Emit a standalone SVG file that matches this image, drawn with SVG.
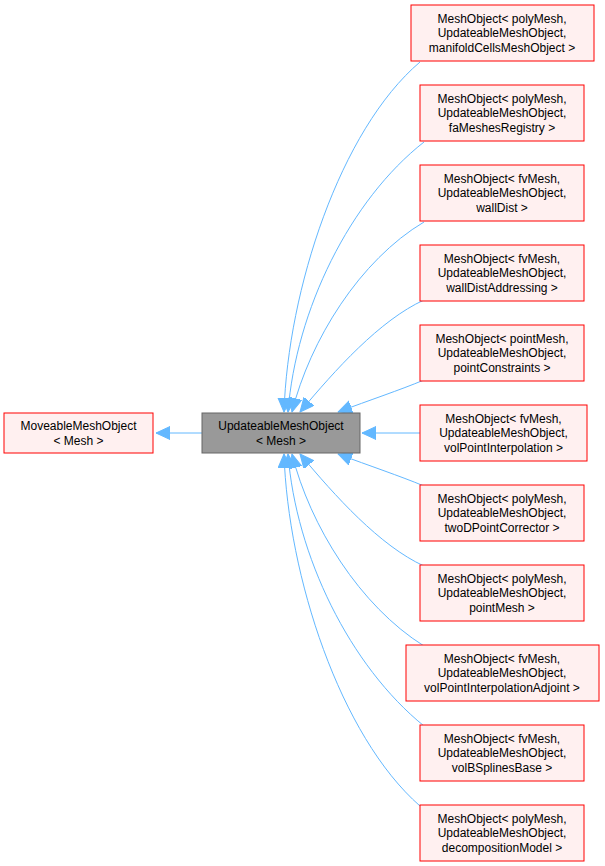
<svg xmlns="http://www.w3.org/2000/svg" width="605" height="866" viewBox="0 0 605 866">
<style>
.n rect{fill:#fff0f0;stroke:#ff0000;stroke-width:1}
.c rect{fill:#999999;stroke:#666666;stroke-width:1}
text{font-family:"Liberation Sans",Arial,sans-serif;font-size:12px;fill:#000;text-anchor:middle}
.e path{fill:none;stroke:#63b8ff;stroke-width:1}
</style>
<defs>
<marker id="a" markerWidth="16" markerHeight="16" refX="14" refY="6.5" orient="auto" markerUnits="userSpaceOnUse">
<polygon points="0,0 14,6.5 0,13" fill="#63b8ff" stroke="#63b8ff" stroke-linejoin="round"/>
</marker>
</defs>
<g class="e">
<path d="M202,433 L156,433" marker-end="url(#a)"/>
<path d="M420,62 C340,130 288,290 284,412" marker-end="url(#a)"/>
<path d="M424,142 C350,200 296,310 288,412" marker-end="url(#a)"/>
<path d="M424,222 C360,260 310,340 292,412" marker-end="url(#a)"/>
<path d="M424,300 C380,320 335,370 300,412" marker-end="url(#a)"/>
<path d="M424,380 C400,390 370,400 338,412" marker-end="url(#a)"/>
<path d="M423,433 L362,433" marker-end="url(#a)"/>
<path d="M424,486 C400,476 370,466 338,454" marker-end="url(#a)"/>
<path d="M424,566 C380,546 335,496 300,454" marker-end="url(#a)"/>
<path d="M424,646 C360,606 310,526 292,454" marker-end="url(#a)"/>
<path d="M424,726 C350,666 296,556 288,454" marker-end="url(#a)"/>
<path d="M420,806 C340,736 288,576 284,454" marker-end="url(#a)"/>
</g>
<g id="moveable" class="n"><rect x="4" y="413" width="149" height="40"/><text x="78.5" y="430">MoveableMeshObject</text><text x="78.5" y="445">&lt; Mesh &gt;</text></g>
<g id="updateable" class="c"><rect x="202" y="413" width="158" height="40"/><text x="281" y="430">UpdateableMeshObject</text><text x="281" y="445">&lt; Mesh &gt;</text></g>
<g id="n1" class="n"><rect x="411" y="5" width="183" height="56"/><text x="502" y="23">MeshObject&lt; polyMesh,</text><text x="502" y="37">UpdateableMeshObject,</text><text x="502" y="52">manifoldCellsMeshObject &gt;</text></g>
<g id="n2" class="n"><rect x="420" y="85" width="164" height="56"/><text x="502" y="103">MeshObject&lt; polyMesh,</text><text x="502" y="117">UpdateableMeshObject,</text><text x="502" y="132">faMeshesRegistry &gt;</text></g>
<g id="n3" class="n"><rect x="420" y="165" width="164" height="56"/><text x="502" y="183">MeshObject&lt; fvMesh,</text><text x="502" y="197">UpdateableMeshObject,</text><text x="502" y="212">wallDist &gt;</text></g>
<g id="n4" class="n"><rect x="420" y="245" width="164" height="56"/><text x="502" y="263">MeshObject&lt; fvMesh,</text><text x="502" y="277">UpdateableMeshObject,</text><text x="502" y="292">wallDistAddressing &gt;</text></g>
<g id="n5" class="n"><rect x="420" y="325" width="164" height="56"/><text x="502" y="343">MeshObject&lt; pointMesh,</text><text x="502" y="357">UpdateableMeshObject,</text><text x="502" y="372">pointConstraints &gt;</text></g>
<g id="n6" class="n"><rect x="420" y="405" width="167" height="56"/><text x="503.5" y="423">MeshObject&lt; fvMesh,</text><text x="503.5" y="437">UpdateableMeshObject,</text><text x="503.5" y="452">volPointInterpolation &gt;</text></g>
<g id="n7" class="n"><rect x="420" y="485" width="164" height="56"/><text x="502" y="503">MeshObject&lt; polyMesh,</text><text x="502" y="517">UpdateableMeshObject,</text><text x="502" y="532">twoDPointCorrector &gt;</text></g>
<g id="n8" class="n"><rect x="420" y="565" width="164" height="56"/><text x="502" y="583">MeshObject&lt; polyMesh,</text><text x="502" y="597">UpdateableMeshObject,</text><text x="502" y="612">pointMesh &gt;</text></g>
<g id="n9" class="n"><rect x="406" y="645" width="193" height="56"/><text x="502" y="663">MeshObject&lt; fvMesh,</text><text x="502" y="677">UpdateableMeshObject,</text><text x="502" y="692">volPointInterpolationAdjoint &gt;</text></g>
<g id="n10" class="n"><rect x="420" y="725" width="164" height="56"/><text x="502" y="743">MeshObject&lt; fvMesh,</text><text x="502" y="757">UpdateableMeshObject,</text><text x="502" y="772">volBSplinesBase &gt;</text></g>
<g id="n11" class="n"><rect x="420" y="805" width="164" height="56"/><text x="502" y="823">MeshObject&lt; polyMesh,</text><text x="502" y="837">UpdateableMeshObject,</text><text x="502" y="852">decompositionModel &gt;</text></g>
</svg>
